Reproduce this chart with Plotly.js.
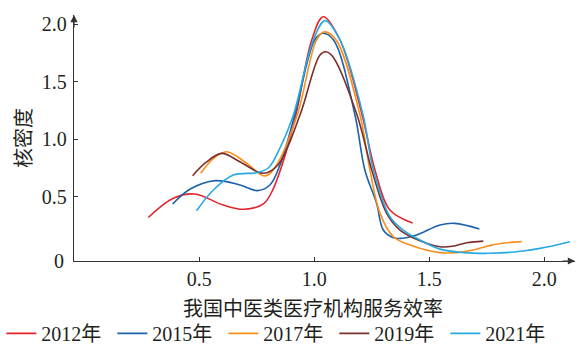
<!DOCTYPE html>
<html><head><meta charset="utf-8">
<script src="https://cdn.plot.ly/plotly-3.0.1.min.js"></script>
<style>html,body{margin:0;padding:0;background:#fff}#chart{width:580px;height:344px}</style>
</head><body><div id="chart"></div>
<script>
// Data (kernel density estimates)
const seriesNames = ["2012年", "2015年", "2017年", "2019年", "2021年"];
const x2012 = [0.278,0.387,0.48,0.604,0.695,0.78,0.819,0.86,0.92,0.989,1.039,1.112,1.208,1.264,1.329,1.428];
const y2012 = [0.32,0.487,0.524,0.428,0.391,0.44,0.558,0.776,1.21,1.862,2.064,1.862,1.21,0.733,0.385,0.272];
const x2015 = [0.384,0.459,0.57,0.677,0.752,0.807,0.851,0.915,1.002,1.037,1.084,1.177,1.22,1.271,1.30,1.344,1.38,1.445,1.547,1.612,1.718];
const y2015 = [0.437,0.565,0.64,0.602,0.553,0.602,0.776,1.21,1.862,1.92,1.862,1.21,0.733,0.443,0.211,0.144,0.139,0.168,0.255,0.269,0.22];
const x2017 = [0.506,0.56,0.619,0.70,0.786,0.836,0.926,1.01,1.044,1.095,1.199,1.242,1.286,1.344,1.416,1.547,1.62,1.692,1.77,1.837,1.902];
const y2017 = [0.704,0.83,0.891,0.80,0.68,0.776,1.21,1.862,1.932,1.862,1.21,0.733,0.356,0.153,0.081,0.015,0.015,0.037,0.08,0.10,0.11];
const x2019 = [0.471,0.53,0.597,0.68,0.778,0.842,0.938,1.024,1.051,1.081,1.186,1.25,1.315,1.373,1.46,1.547,1.60,1.663,1.735];
const y2019 = [0.683,0.80,0.877,0.80,0.704,0.776,1.21,1.73,1.76,1.717,1.21,0.733,0.356,0.211,0.118,0.066,0.07,0.10,0.115];
const x2021 = [0.488,0.561,0.648,0.749,0.80,0.85,0.909,0.996,1.047,1.112,1.212,1.257,1.329,1.387,1.46,1.547,1.65,1.764,1.87,1.982,2.112];
const y2021 = [0.379,0.559,0.689,0.709,0.75,0.92,1.21,1.862,2.03,1.862,1.21,0.733,0.327,0.211,0.124,0.045,0.015,0.009,0.02,0.052,0.11];
const xTicks = [0.5, 1.0, 1.5, 2.0];
const xTickText = ["0.5", "1.0", "1.5", "2.0"];
const yTicks = [0.5, 1.0, 1.5, 2.0];
const yTickText = ["0.5", "1.0", "1.5", "2.0"];
const xTitle = "我国中医类医疗机构服务效率";
const yTitle = "核密度";

const colors = ["#e3242b", "#1b62ab", "#f7901e", "#7a2e2e", "#26aae1"];
const xs = [x2012, x2015, x2017, x2019, x2021];
const ys = [y2012, y2015, y2017, y2019, y2021];

const traces = seriesNames.map((n, i) => ({
  type: "scatter", mode: "lines", name: n,
  x: xs[i], y: ys[i],
  line: {color: colors[i], width: 1.6, shape: "spline", smoothing: 1}
}));

const axisColor = "#333";
const tickFont = {family: "Liberation Serif, Times New Roman, serif", size: 20, color: "#231f20"};

const layout = {
  width: 580, height: 344,
  margin: {l: 74, r: 5, t: 15, b: 83, autoexpand: false},
  paper_bgcolor: "#fff", plot_bgcolor: "#fff",
  showlegend: true,
  legend: {
    orientation: "h", x: -0.145, xanchor: "left", y: -0.215, yanchor: "top",
    font: {family: "Liberation Serif, Noto Sans CJK SC, serif", size: 20, color: "#231f20"},
    entrywidth: 66, entrywidthmode: "pixels", itemwidth: 30, tracegroupgap: 0
  },
  xaxis: {
    range: [-0.045, 2.134], tickvals: xTicks, ticktext: xTickText,
    showgrid: false, zeroline: false, showline: true, linecolor: axisColor, linewidth: 1.2,
    ticks: "inside", ticklen: 4, tickcolor: axisColor, tickwidth: 1,
    tickfont: tickFont
  },
  yaxis: {
    range: [-0.058, 2.079], tickvals: yTicks, ticktext: yTickText,
    showgrid: false, zeroline: false, showline: true, linecolor: axisColor, linewidth: 1.2,
    ticks: "inside", ticklen: 4, tickcolor: axisColor, tickwidth: 1,
    tickfont: tickFont, ticklabelstandoff: 2
  },
  annotations: [
    {xref: "paper", yref: "paper", x: 0, y: 0, text: "0", showarrow: false,
     xanchor: "right", yanchor: "middle", xshift: -8, font: tickFont},
    {xref: "paper", yref: "paper", x: 1, y: 0, ax: -14, ay: 0, text: "", showarrow: true,
     arrowhead: 2, arrowsize: 1.2, arrowwidth: 1.2, arrowcolor: axisColor},
    {xref: "paper", yref: "paper", x: 0, y: 1, ax: 0, ay: 14, text: "", showarrow: true,
     arrowhead: 2, arrowsize: 1.2, arrowwidth: 1.2, arrowcolor: axisColor},
    {xref: "paper", yref: "paper", x: (313 - 74) / 501, y: -0.187, text: xTitle, showarrow: false,
     xanchor: "center", yanchor: "middle",
     font: {family: "Noto Sans CJK SC, sans-serif", size: 20, color: "#231f20"}},
    {xref: "paper", yref: "paper", x: (22 - 74) / 501, y: 0.5, text: yTitle, showarrow: false,
     textangle: -90, xanchor: "center", yanchor: "middle",
     font: {family: "Noto Sans CJK SC, sans-serif", size: 20, color: "#231f20"}}
  ]
};

Plotly.newPlot("chart", traces, layout, {staticPlot: true, displayModeBar: false});
</script></body></html>
